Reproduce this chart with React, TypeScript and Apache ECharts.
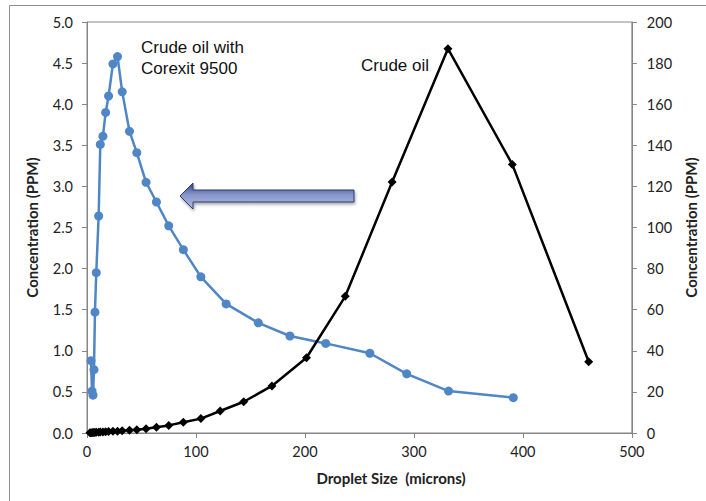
import React, { useEffect, useRef } from "react";
import * as echarts from "echarts";

// Droplet size bins (microns) and concentrations for the dispersed oil
const corexitSizes = [3.7, 4.6, 5.5, 6.4, 7.3, 8.5, 10.7, 12.2, 14.6, 17.1, 19.8, 23.8, 28.0, 32.3, 39.0, 45.7, 54.2, 63.7, 75.0, 88.4, 104.5, 127.7, 157.2, 186.2, 219.1, 259.6, 293.4, 331.8, 391.2];
const corexitPpm = [0.88, 0.51, 0.46, 0.77, 1.47, 1.95, 2.64, 3.51, 3.61, 3.90, 4.10, 4.49, 4.58, 4.15, 3.67, 3.41, 3.05, 2.81, 2.52, 2.23, 1.90, 1.57, 1.34, 1.18, 1.09, 0.97, 0.72, 0.51, 0.43];

// Droplet size bins (microns) and concentrations for untreated crude oil
const crudeSizes = [2.7, 3.7, 4.6, 5.5, 6.4, 7.3, 8.5, 10.7, 12.2, 14.6, 17.1, 19.8, 23.8, 28.0, 32.3, 39.0, 45.7, 54.2, 63.7, 75.0, 88.4, 104.5, 122.2, 143.8, 169.7, 201.4, 237.0, 280.0, 331.2, 390.3, 460.4];
const crudePpm = [0.1, 0.1, 0.15, 0.2, 0.25, 0.3, 0.35, 0.4, 0.45, 0.5, 0.6, 0.7, 0.8, 0.9, 1.1, 1.3, 1.6, 2.1, 2.8, 3.7, 5.2, 7.0, 10.7, 15.2, 22.9, 36.6, 66.5, 122.1, 187.0, 130.7, 34.7];

const xTicks = { min: 0, max: 500, interval: 100 };
const leftTicks = { min: 0, max: 5, interval: 0.5 };
const rightTicks = { min: 0, max: 200, interval: 20 };

const FONT = "Lato, 'Liberation Sans', sans-serif";
const AXIS_GRAY = "#868686";
const LABEL_COLOR = "#222";
const BLUE = "#4F86C6";

export default function App() {
  const ref = useRef<HTMLDivElement>(null);

  useEffect(() => {
    document.body.style.margin = "0";
    if (!ref.current) return;
    const chart = echarts.init(ref.current, undefined, { renderer: "svg" });

    const axisCommon = {
      axisLine: { show: true, lineStyle: { color: AXIS_GRAY, width: 1 } },
      axisTick: { show: true, inside: false, length: 5, lineStyle: { color: AXIS_GRAY } },
      splitLine: { show: false },
    };
    const tickLabel = { color: LABEL_COLOR, fontFamily: FONT, fontSize: 14.5 };
    const titleStyle = { color: LABEL_COLOR, fontFamily: FONT, fontSize: 15, fontWeight: "bold" };

    chart.setOption({
      animation: false,
      backgroundColor: "#fff",
      grid: {
        left: 87,
        top: 22,
        right: 72,
        bottom: 68,
        show: true,
        borderColor: AXIS_GRAY,
        borderWidth: 1,
      },
      xAxis: {
        type: "value",
        ...xTicks,
        ...axisCommon,
        axisLabel: { ...tickLabel, margin: 11 },
      },
      yAxis: [
        {
          type: "value",
          position: "left",
          ...leftTicks,
          ...axisCommon,
          axisLabel: { ...tickLabel, margin: 14, formatter: (v: number) => v.toFixed(1) },
          name: "Concentration (PPM)",
          nameLocation: "middle",
          nameGap: 48,
          nameTextStyle: titleStyle,
        },
        {
          type: "value",
          position: "right",
          ...rightTicks,
          ...axisCommon,
          axisLabel: { ...tickLabel, margin: 15 },
          name: "Concentration (PPM)",
          nameLocation: "middle",
          nameGap: 51,
          nameRotate: 90,
          nameTextStyle: titleStyle,
        },
      ],
      series: [
        {
          name: "Crude oil with Corexit 9500",
          type: "line",
          yAxisIndex: 0,
          data: corexitSizes.map((x, i) => [x, corexitPpm[i]]),
          symbol: "circle",
          symbolSize: 9,
          showAllSymbol: true,
          itemStyle: { color: BLUE },
          lineStyle: { color: BLUE, width: 2.5 },
          z: 3,
        },
        {
          name: "Crude oil",
          type: "line",
          yAxisIndex: 1,
          data: crudeSizes.map((x, i) => [x, crudePpm[i]]),
          symbol: "diamond",
          symbolSize: 9,
          showAllSymbol: true,
          itemStyle: { color: "#000" },
          lineStyle: { color: "#000", width: 2.5 },
          z: 4,
        },
      ],
      graphic: [
        // chart frame
        {
          type: "rect",
          shape: { x: 9.5, y: 5.5, width: 720, height: 520 },
          style: { fill: "none", stroke: "#8c8c8c", lineWidth: 1 },
          silent: true,
          z: -1,
        },
        {
          type: "text",
          left: 141,
          top: 37,
          style: {
            text: "Crude oil with\nCorexit 9500",
            font: "17px 'Liberation Sans', Arial, sans-serif",
            fill: "#111",
            lineHeight: 21,
          },
        },
        {
          type: "text",
          left: 361,
          top: 57,
          style: {
            text: "Crude oil",
            font: "17px 'Liberation Sans', Arial, sans-serif",
            fill: "#111",
          },
        },
        {
          type: "text",
          x: 391,
          y: 478,
          style: {
            text: "Droplet Size  (microns)",
            font: `bold 15px ${FONT}`,
            fill: LABEL_COLOR,
            align: "center",
            verticalAlign: "middle",
          },
        },
        // shift arrow pointing toward the smaller droplet sizes
        {
          type: "polygon",
          shape: {
            points: [
              [180, 196],
              [193, 183],
              [193, 190],
              [354, 190],
              [354, 202],
              [193, 202],
              [193, 209],
            ],
          },
          style: {
            fill: new echarts.graphic.LinearGradient(0, 0, 0, 1, [
              { offset: 0, color: "#2e4386" },
              { offset: 0.45, color: "#8795c8" },
              { offset: 1, color: "#b4bde0" },
            ]),
            stroke: "#2c3d78",
            lineWidth: 1,
            shadowBlur: 3,
            shadowColor: "rgba(0,0,0,0.35)",
            shadowOffsetX: 1,
            shadowOffsetY: 2,
          },
          z: 10,
        },
      ],
    });

    return () => chart.dispose();
  }, []);

  return <div ref={ref} style={{ width: 706, height: 501 }} />;
}
